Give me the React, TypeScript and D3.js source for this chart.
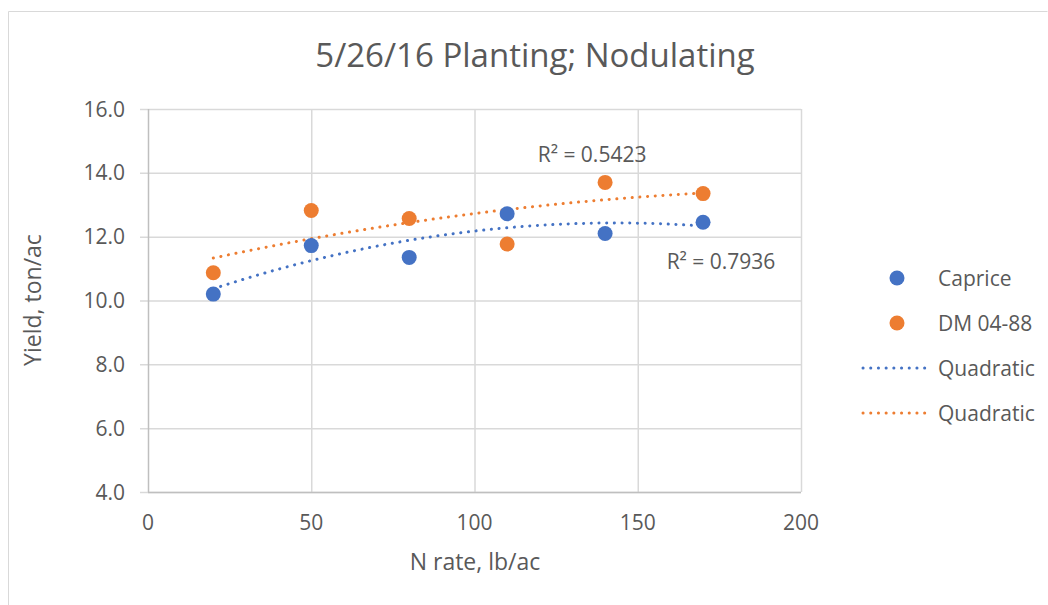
import React from "react";
import * as d3 from "d3";

const nRates = [20, 50, 80, 110, 140, 170];
const capriceYield = [10.2, 11.72, 11.35, 12.72, 12.1, 12.45];
const dmYield = [10.87, 12.82, 12.57, 11.77, 13.7, 13.35];
const xTicks = [0, 50, 100, 150, 200];
const yTicks = [4, 6, 8, 10, 12, 14, 16];
const seriesNames = ["Caprice", "DM 04-88", "Quadratic", "Quadratic"];
const r2Labels = ["R² = 0.5423", "R² = 0.7936"];

const BLUE = "#4472C4";
const ORANGE = "#ED7D31";
const TXT = "#595959";
const FONT = "'Open Sans', sans-serif";

// least-squares quadratic fit (what the spreadsheet's polynomial trendline does)
function quadFit(xs: number[], ys: number[]) {
  const n = xs.length;
  let s = [0, 0, 0, 0, 0];
  let t = [0, 0, 0];
  for (let i = 0; i < n; i++) {
    const x = xs[i];
    for (let k = 0; k < 5; k++) s[k] += Math.pow(x, k);
    for (let k = 0; k < 3; k++) t[k] += ys[i] * Math.pow(x, k);
  }
  const A = [
    [s[0], s[1], s[2], t[0]],
    [s[1], s[2], s[3], t[1]],
    [s[2], s[3], s[4], t[2]],
  ];
  for (let i = 0; i < 3; i++) {
    for (let j = i + 1; j < 3; j++) {
      const f = A[j][i] / A[i][i];
      for (let k = i; k < 4; k++) A[j][k] -= f * A[i][k];
    }
  }
  const c = [0, 0, 0];
  for (let i = 2; i >= 0; i--) {
    let v = A[i][3];
    for (let k = i + 1; k < 3; k++) v -= A[i][k] * c[k];
    c[i] = v / A[i][i];
  }
  return (x: number) => c[0] + c[1] * x + c[2] * x * x;
}

export default function App() {
  const W = 1048, H = 605;
  const left = 148, right = 801, top = 109, bottom = 492;
  const x = d3.scaleLinear().domain([0, 200]).range([left, right]);
  const y = d3.scaleLinear().domain([4, 16]).range([bottom, top]);

  const fitB = quadFit(nRates, capriceYield);
  const fitO = quadFit(nRates, dmYield);
  const xs = d3.range(nRates[0], nRates[nRates.length - 1] + 0.001, 1);
  const line = d3.line<number>().x((d) => x(d[0])).y((d) => y(d[1])).curve(d3.curveLinear) as any;
  const pathB = line(xs.map((v) => [v, fitB(v)]));
  const pathO = line(xs.map((v) => [v, fitO(v)]));

  const dots = "0.1 7.6";
  const legX = 897;
  const legY = [278, 323, 368, 413];

  return (
    <svg width={W} height={H} style={{ position: "absolute", left: 0, top: 0, fontFamily: FONT }}>
      <rect x={0} y={0} width={W} height={H} fill="#fff" />
      <path d={`M8.5,${H + 2}V11.5H${W - 0.5}`} fill="none" stroke="#d9d9d9" strokeWidth={1} />
      <text x={535} y={67} textAnchor="middle" fontSize={33} fill={TXT}>
        5/26/16 Planting; Nodulating
      </text>
      {yTicks.map((t) => (
        <g key={"y" + t}>
          <line x1={left - 8} x2={right} y1={y(t) + 0.5} y2={y(t) + 0.5} stroke="#d9d9d9" strokeWidth={1.5} />
          <text x={125} y={y(t) + 7.5} textAnchor="end" fontSize={21} fill={TXT}>
            {t.toFixed(1)}
          </text>
        </g>
      ))}
      {xTicks.map((t) => (
        <g key={"x" + t}>
          {t > 0 && (
            <line x1={x(t) + 0.5} x2={x(t) + 0.5} y1={top} y2={bottom} stroke="#d9d9d9" strokeWidth={1.5} />
          )}
          <text x={x(t)} y={530} textAnchor="middle" fontSize={21} fill={TXT}>
            {t}
          </text>
        </g>
      ))}
      <line x1={left + 0.5} x2={left + 0.5} y1={top} y2={bottom} stroke="#bfbfbf" strokeWidth={1.5} />
      <line x1={left} x2={right} y1={bottom + 0.5} y2={bottom + 0.5} stroke="#bfbfbf" strokeWidth={1.5} />
      <text x={475} y={570} textAnchor="middle" fontSize={23} fill={TXT}>
        N rate, lb/ac
      </text>
      <text transform={`translate(41,300) rotate(-90)`} textAnchor="middle" fontSize={23} fill={TXT}>
        Yield, ton/ac
      </text>

      <path d={pathB} fill="none" stroke={BLUE} strokeWidth={3} strokeLinecap="round" strokeDasharray={dots} />
      <path d={pathO} fill="none" stroke={ORANGE} strokeWidth={3} strokeLinecap="round" strokeDasharray={dots} />

      {nRates.map((r, i) => (
        <circle key={"b" + i} cx={x(r)} cy={y(capriceYield[i])} r={7.5} fill={BLUE} />
      ))}
      {nRates.map((r, i) => (
        <circle key={"o" + i} cx={x(r)} cy={y(dmYield[i])} r={7.5} fill={ORANGE} />
      ))}

      <text x={x(136)} y={y(14.56) + 7} textAnchor="middle" fontSize={21} fill={TXT}>
        {r2Labels[0]}
      </text>
      <text x={x(175.5)} y={y(11.2) + 7} textAnchor="middle" fontSize={21} fill={TXT}>
        {r2Labels[1]}
      </text>

      <circle cx={legX} cy={legY[0]} r={7.5} fill={BLUE} />
      <circle cx={legX} cy={legY[1]} r={7.5} fill={ORANGE} />
      <line x1={863} x2={932} y1={legY[2]} y2={legY[2]} stroke={BLUE} strokeWidth={3} strokeLinecap="round" strokeDasharray={dots} />
      <line x1={863} x2={932} y1={legY[3]} y2={legY[3]} stroke={ORANGE} strokeWidth={3} strokeLinecap="round" strokeDasharray={dots} />
      {seriesNames.map((s, i) => (
        <text key={"l" + i} x={938} y={legY[i] + 7.5} fontSize={21} fill={TXT}>
          {s}
        </text>
      ))}
    </svg>
  );
}
